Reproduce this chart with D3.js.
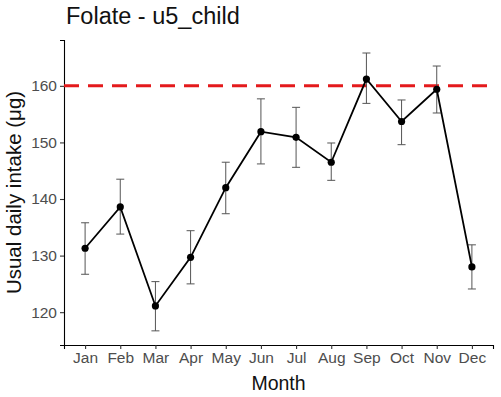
<!DOCTYPE html>
<html>
<head>
<meta charset="utf-8">
<script src="https://cdn.jsdelivr.net/npm/d3@7"></script>
<style>
  body { margin: 0; background: #fff; }
  text { font-family: "Liberation Sans", Arial, sans-serif; }
</style>
</head>
<body>
<div id="chart"></div>
<script>
const months = ['Jan', 'Feb', 'Mar', 'Apr', 'May', 'Jun', 'Jul', 'Aug', 'Sep', 'Oct', 'Nov', 'Dec'];
const intake = [131.3, 138.6, 121.1, 129.7, 142.0, 151.9, 150.9, 146.5, 161.2, 153.7, 159.4, 128.0];
const lower  = [126.7, 133.8, 116.7, 125.0, 137.4, 146.2, 145.6, 143.3, 156.9, 149.6, 155.2, 124.1];
const upper  = [135.8, 143.5, 125.4, 134.4, 146.5, 157.7, 156.2, 149.9, 165.8, 157.5, 163.5, 131.9];
const yTicks = [120, 130, 140, 150, 160];
const reference = 160;

const W = 501, H = 397;
const margin = {top: 40, right: 8, bottom: 52, left: 64};
const width = W - margin.left - margin.right;
const height = H - margin.top - margin.bottom;

const svg = d3.select('#chart').append('svg')
    .attr('width', W)
    .attr('height', H);

const g = svg.append('g')
    .attr('transform', `translate(${margin.left},${margin.top})`);

const x = d3.scalePoint()
    .domain(months)
    .range([0, width])
    .padding(0.6);

const y = d3.scaleLinear()
    .domain([114.2, 168.1])
    .range([height, 0]);

// Eixos
const xAxis = g.append('g')
    .attr('transform', `translate(0,${height})`)
    .call(d3.axisBottom(x).tickSize(4).tickPadding(3));

const yAxis = g.append('g')
    .call(d3.axisLeft(y).tickValues(yTicks).tickSize(4).tickPadding(3));

[xAxis, yAxis].forEach(ax => {
    ax.select('.domain').attr('stroke', '#000').attr('stroke-width', 1.1);
    ax.selectAll('.tick line').attr('stroke', '#333').attr('stroke-width', 1.1);
    ax.selectAll('.tick text')
        .attr('fill', '#4d4d4d')
        .style('font-size', '15.5px')
        .style('font-family', '"Liberation Sans", Arial, sans-serif');
});

// Linha de referência
g.append('line')
    .attr('x1', 0)
    .attr('x2', width)
    .attr('y1', y(reference))
    .attr('y2', y(reference))
    .attr('stroke', '#e41a1c')
    .attr('stroke-width', 3)
    .attr('stroke-dasharray', '15,9');

// Barras de erro
const bars = g.selectAll('.err')
    .data(months)
    .enter()
    .append('g')
    .attr('class', 'err')
    .attr('stroke', '#555')
    .attr('stroke-width', 1);

bars.append('line')
    .attr('x1', d => x(d)).attr('x2', d => x(d))
    .attr('y1', (d, i) => y(lower[i]))
    .attr('y2', (d, i) => y(upper[i]));

bars.append('line')
    .attr('x1', d => x(d) - 4).attr('x2', d => x(d) + 4)
    .attr('y1', (d, i) => y(upper[i]))
    .attr('y2', (d, i) => y(upper[i]));

bars.append('line')
    .attr('x1', d => x(d) - 4).attr('x2', d => x(d) + 4)
    .attr('y1', (d, i) => y(lower[i]))
    .attr('y2', (d, i) => y(lower[i]));

// Linha e pontos
const line = d3.line()
    .x((d, i) => x(months[i]))
    .y(d => y(d));

g.append('path')
    .datum(intake)
    .attr('fill', 'none')
    .attr('stroke', '#000')
    .attr('stroke-width', 1.8)
    .attr('d', line);

g.selectAll('.pt')
    .data(intake)
    .enter()
    .append('circle')
    .attr('class', 'pt')
    .attr('cx', (d, i) => x(months[i]))
    .attr('cy', d => y(d))
    .attr('r', 3.6)
    .attr('fill', '#000');

// Títulos
svg.append('text')
    .attr('x', 66)
    .attr('y', 24)
    .attr('fill', '#111')
    .style('font-size', '23.5px')
    .text('Folate - u5_child');

svg.append('text')
    .attr('x', margin.left + width / 2)
    .attr('y', 390)
    .attr('text-anchor', 'middle')
    .attr('fill', '#111')
    .style('font-size', '19.5px')
    .text('Month');

svg.append('text')
    .attr('transform', 'rotate(-90)')
    .attr('x', -(margin.top + height / 2))
    .attr('y', 21)
    .attr('text-anchor', 'middle')
    .attr('fill', '#111')
    .style('font-size', '20.5px')
    .text('Usual daily intake (μg)');
</script>
</body>
</html>
